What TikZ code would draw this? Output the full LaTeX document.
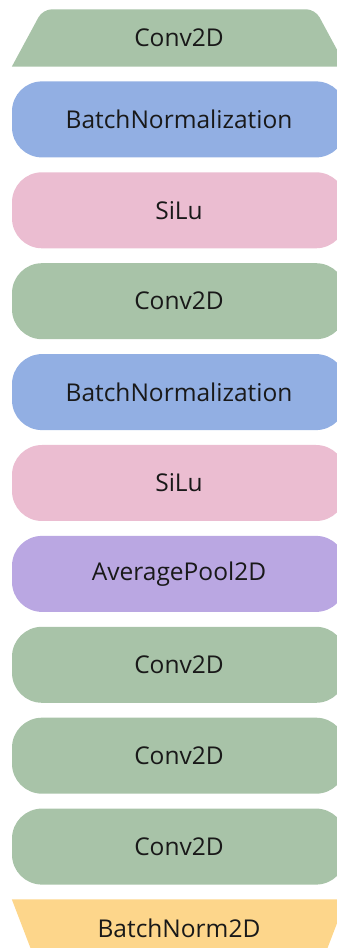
\documentclass[tikz,border=0pt]{standalone}
\usepackage{fontspec}
\setmainfont{Open Sans}
\usetikzlibrary{positioning,backgrounds}
\definecolor{LayerGreen}{RGB}{168,195,168}
\definecolor{LayerBlue}{RGB}{146,175,227}
\definecolor{LayerPink}{RGB}{235,189,209}
\definecolor{LayerPurple}{RGB}{186,167,226}
\definecolor{LayerYellow}{RGB}{253,214,139}
\definecolor{LabelInk}{RGB}{25,25,25}
\tikzset{
  layer/.style={rectangle,rounded corners=30pt,minimum width=334pt,minimum height=76pt,
    inner sep=0pt,text=LabelInk,font=\fontsize{24.5}{28}\selectfont},
  ends/.style={rectangle,minimum width=334pt,minimum height=57pt,
    inner sep=0pt,text=LabelInk,font=\fontsize{24.5}{28}\selectfont},
}
\begin{document}
\begin{tikzpicture}[x=1pt,y=1pt,node distance=14.5pt]
\useasboundingbox (0,0) rectangle (337,948);
\clip (0,0) rectangle (337,948);
\node[ends] (conva) at (179,910) {Conv2D};
\node[layer,fill=LayerBlue,below=of conva] (bna) {BatchNormalization};
\node[layer,fill=LayerPink,below=of bna] (silua) {SiLu};
\node[layer,fill=LayerGreen,below=of silua] (convb) {Conv2D};
\node[layer,fill=LayerBlue,below=of convb] (bnb) {BatchNormalization};
\node[layer,fill=LayerPink,below=of bnb] (silub) {SiLu};
\node[layer,fill=LayerPurple,below=of silub] (pool) {AveragePool2D};
\node[layer,fill=LayerGreen,below=of pool] (convc) {Conv2D};
\node[layer,fill=LayerGreen,below=of convc] (convd) {Conv2D};
\node[layer,fill=LayerGreen,below=of convd] (conve) {Conv2D};
\node[ends,below=of conve] (bnorm) {BatchNorm2D};
% slanted end pieces
\begin{pgfonlayer}{background}
\fill[LayerGreen,rounded corners=9pt] (conva.south west) -- ([xshift=31pt]conva.north west)
  -- ([xshift=-31pt]conva.north east) [sharp corners] -- (conva.south east) -- cycle;
\fill[LayerYellow] (bnorm.north west) -- ([xshift=22pt]bnorm.south west)
  -- ([xshift=-22pt]bnorm.south east) -- (bnorm.north east) -- cycle;
\end{pgfonlayer}
\end{tikzpicture}
\end{document}
